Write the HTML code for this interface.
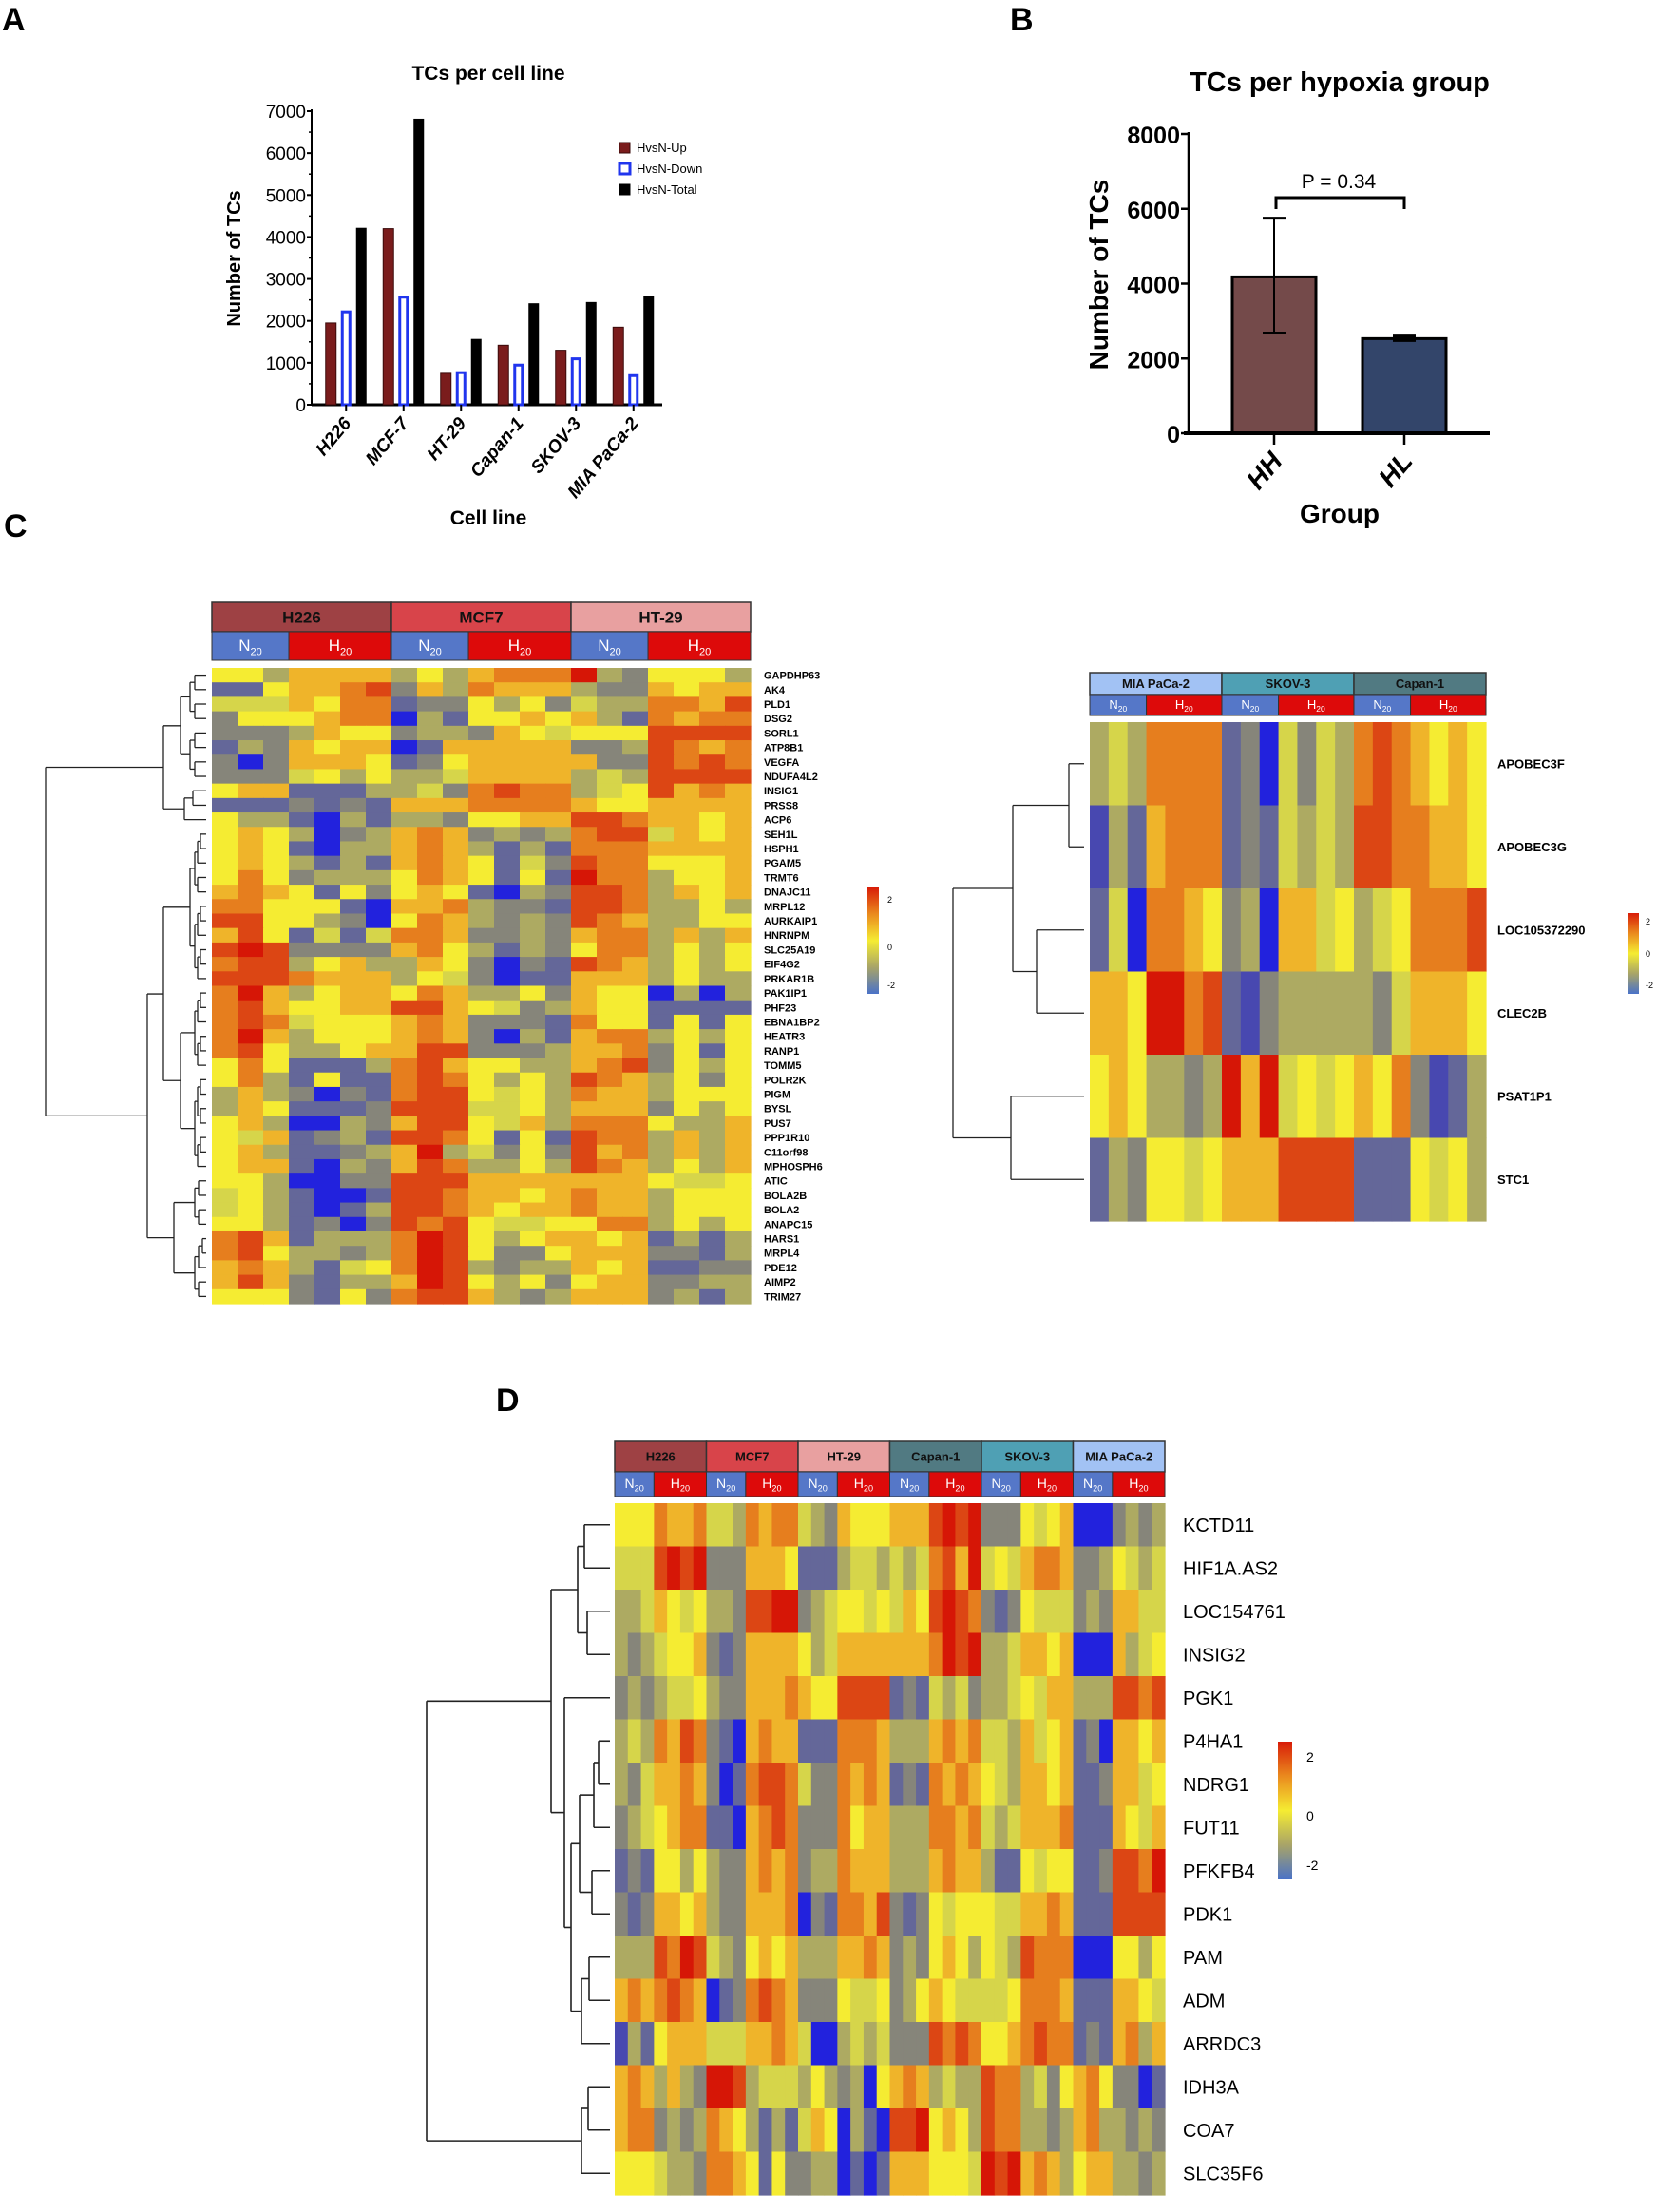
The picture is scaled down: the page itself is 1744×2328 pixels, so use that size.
<!DOCTYPE html>
<html><head><meta charset="utf-8"><style>
html,body{margin:0;padding:0;background:#fff;}
svg text{font-family:"Liberation Sans",Arial,sans-serif;}
</style></head><body>
<svg id="fig" xmlns="http://www.w3.org/2000/svg" width="1744" height="2323" viewBox="0 0 1744 2323">
<defs>
<linearGradient id="cbar" x1="0" y1="0" x2="0" y2="1">
<stop offset="0" stop-color="#d81c08"/><stop offset="0.25" stop-color="#ea8a1e"/><stop offset="0.5" stop-color="#f5ec32"/><stop offset="0.75" stop-color="#a8a468"/><stop offset="1" stop-color="#4a72c8"/>
</linearGradient>
</defs>
<g id="gA"></g>
<g id="gB"></g>
<g id="gC"></g>
<g id="gD"></g>
</svg>
<script>
// ---------- Panel A data ----------
const cellLines = ["H226","MCF-7","HT-29","Capan-1","SKOV-3","MIA PaCa-2"];
const upValues = [1950,4200,750,1420,1300,1850];
const downValues = [2250,2600,800,980,1130,730];
const totalValues = [4220,6820,1570,2420,2450,2600];
const aTicks = [0,1000,2000,3000,4000,5000,6000,7000];
// ---------- Panel B data ----------
const groups = ["HH","HL"];
const groupMeans = [4180,2530];
const groupErrLow = [2680,2480];
const groupErrHigh = [5750,2600];
const bTicks = [0,2000,4000,6000,8000];
// ---------- Heatmap C-left ----------
const cLeftGenes = ["GAPDHP63","AK4","PLD1","DSG2","SORL1","ATP8B1","VEGFA","NDUFA4L2","INSIG1","PRSS8","ACP6","SEH1L","HSPH1","PGAM5","TRMT6","DNAJC11","MRPL12","AURKAIP1","HNRNPM","SLC25A19","EIF4G2","PRKAR1B","PAK1IP1","PHF23","EBNA1BP2","HEATR3","RANP1","TOMM5","POLR2K","PIGM","BYSL","PUS7","PPP1R10","C11orf98","MPHOSPH6","ATIC","BOLA2B","BOLA2","ANAPC15","HARS1","MRPL4","PDE12","AIMP2","TRIM27"];
const cLeftRows = [
"yyoaaaa"+"oyoaOOO"+"Rogyyyo","bbyaaOr"+"gaoOaaa"+"oggayaa","lllayOO"+"bggyoyg"+"looOOar","gyyyaOO"+"Bobyyay"+"aobOaOO",
"gggoayy"+"googayl"+"yyyrrrr","bogayaa"+"Bbaaaaa"+"ggorOaO","gBgaaay"+"bgyaaaa"+"aggrOrO","ggglyoy"+"oolaaaa"+"olorrrr",
"yaabbbo"+"olgOrOO"+"olyraOa","bbbgbgb"+"aaaOOOO"+"ayyaaaa","yoobBob"+"oogyyaa"+"rrOaaya","yayoBgo"+"aOagogo"+"Orrlaya",
"yaybBoo"+"aOaobob"+"OOOaaaa","yayobob"+"aOayblg"+"rOOyyya","yOygooo"+"yOaybyb"+"ROOoyya","aOaybyg"+"yaybBog"+"rrOoaya",
"OOyyybB"+"aaOoggb"+"rrOooyo","rryyogB"+"yOaogog"+"rOaooyy","aryblbl"+"OOaggog"+"aOOoaoa","rRrgggg"+"aOyobog"+"yOOoyoy",
"Orroyao"+"oaygBgb"+"rOaoyoy","rrrOaaa"+"oylgBbb"+"aaaoyoo","ORaoyaa"+"yOaooyg"+"ayyBoBo","Orayyaa"+"rraylgo"+"ayybbbb",
"OrOlyyy"+"aOagggb"+"Oyybyby","ORaoyyy"+"aOagBob"+"aOOoyoy","Oryooya"+"arrgggo"+"aaOgyby","yOybbbo"+"Orayyoo"+"aOrgyoy",
"yOobybb"+"OrOyoyo"+"rOaoygy","oaogBgb"+"Orrylyo"+"Oaaoyyy","oaybbbg"+"rrrllyo"+"aaagyoy","yaoBBog"+"arrylao"+"OOOyooa",
"ylabgob"+"rrOybyb"+"rOOoaoa","yaobbgo"+"aRolgyg"+"raOoaoa","yaabBog"+"arOooyo"+"rOaoyoa","yyoBBgg"+"rrraaaa"+"aaaylly",
"lyobBBb"+"rrOaaya"+"Oaaoyyy","lyobBbo"+"rrOayaa"+"Oaaoyyy","yyobgBg"+"rOrylly"+"yOOoyoy","Orabooo"+"ORryoya"+"ayabobo",
"Oryoogo"+"ORryggy"+"aaaggbo","aOaobly"+"ORrogoo"+"ayabbgg","aragboo"+"aRryoyg"+"yaaggoo","yyygbyg"+"Orraogo"+"aaagobo"];
const cLeftGroups = ["H226","MCF7","HT-29"];
// ---------- Heatmap C-right ----------
const cRightGenes = ["APOBEC3F","APOBEC3G","LOC105372290","CLEC2B","PSAT1P1","STC1"];
const cRightRows = [
"oloOOOO"+"bgBlglo"+"OrOayay","mobaOOO"+"bgblolo"+"rrOOaay","blBOOay"+"goBaaly"+"olyOOOr",
"aayRROr"+"bmgoooo"+"oglaaay","yayoogo"+"RaRlyly"+"ayOgmbo","bogyyly"+"aaarrrr"+"bbbylyo"];
const cRightGroups = ["MIA PaCa-2","SKOV-3","Capan-1"];
// ---------- Heatmap D ----------
const dGenes = ["KCTD11","HIF1A.AS2","LOC154761","INSIG2","PGK1","P4HA1","NDRG1","FUT11","PFKFB4","PDK1","PAM","ADM","ARRDC3","IDH3A","COA7","SLC35F6"];
const dRows = [
"yyyOaaO"+"lloOaOO"+"logayyy"+"aaarRrR"+"gggylya"+"BBBgogo",
"lllrRrR"+"gggaaay"+"bbbollo"+"lolOraR"+"lylaOOa"+"ggoylol",
"oolayly"+"oogrrRR"+"golyyly"+"layrRrO"+"gbgylll"+"gogaall",
"ogolyya"+"gbgaaaa"+"yolaaaa"+"aaaORrR"+"oolaaya"+"BBBaoly",
"gogolly"+"oggaaaO"+"ayyrrrr"+"bgblolg"+"oolylaa"+"ooorrOr",
"oloOarO"+"gbBaOaa"+"bbbOOOa"+"oooaOaO"+"lloalya"+"bgBaaya",
"oglaaOa"+"gBbOrrO"+"lggOaOa"+"bgbOaOa"+"yloaaya"+"bbgaaly",
"golyaOO"+"bbBaOrO"+"gggOyaa"+"oooOOaO"+"lolaaaO"+"bbbayla",
"bgbyyoy"+"oggaOaO"+"gooOaaa"+"oooaOaa"+"obbylyy"+"bbgrrOR",
"gbgaaya"+"oggaaaO"+"BgbOOar"+"gbgylyy"+"yllaaOa"+"bbbrrrr",
"ooorORr"+"logyaya"+"oooaaOa"+"gogyayo"+"ylorOOO"+"BBByyoy",
"aOaOrOa"+"BbgOrOa"+"gggylly"+"goyayll"+"llyOOOa"+"bbbaayl",
"mobyaaa"+"lllaaOa"+"lBBolol"+"gggrOrO"+"yyaOrOO"+"bgbaOoa",
"aOaoaog"+"RRrolll"+"oyogoBy"+"aOaoloo"+"rOOolgy"+"aOyggBb",
"aOOgogo"+"Oayobob"+"layBobB"+"rrRyayo"+"rOOoogo"+"aOoogog",
"yyyloog"+"OOaybyg"+"gooBbBb"+"aaayyyl"+"RrRaOao"+"yaaoogo"];
const dGroups = ["H226","MCF7","HT-29","Capan-1","SKOV-3","MIA PaCa-2"];

const NS="http://www.w3.org/2000/svg";
function mk(tag, attrs, parent, text){
  const e=document.createElementNS(NS,tag);
  for(const k in attrs) e.setAttribute(k,attrs[k]);
  if(text!==undefined) e.textContent=text;
  parent.appendChild(e); return e;
}
const codeVal={B:-2.3,m:-1.8,b:-1.5,g:-1.0,o:-0.5,l:0,y:0.4,a:1.0,O:1.5,r:2.0,R:2.4};
const stops=[[-2.3,"#2222dd"],[-1.8,"#4848b0"],[-1.5,"#646799"],[-1.0,"#86857a"],[-0.5,"#adaa62"],[0,"#d6d54a"],[0.4,"#f5ec32"],[1.0,"#efb42a"],[1.5,"#e67e1e"],[2.0,"#dc4614"],[2.4,"#d61606"]];
function colorOf(v){let best=stops[0];for(const s of stops){if(Math.abs(s[0]-v)<Math.abs(best[0]-v))best=s;}return best[1];}
const grpColor={"H226":"#9e4144","MCF7":"#d8444a","HT-29":"#e8a0a0","Capan-1":"#517a82","SKOV-3":"#4fa0b4","MIA PaCa-2":"#a2c2f4"};
const svg=document.getElementById('fig');

// panel letters
const letters=[["A",2,32],["B",1063,32],["C",4,565],["D",522,1485]];
for(const [t,x,y] of letters){
  const e=mk('text',{x:x,y:y,'font-size':34,'font-weight':'bold'},svg,t);
  
  
}

// ---------- Panel A ----------
(function(){
  const g=document.getElementById('gA');
  const x0=328,x1=697,yTop=117,yBot=426,maxV=7000;
  const y=v=>yBot-(v/maxV)*(yBot-yTop);
  const groupW=(x1-x0-6)/cellLines.length;
  const cx=i=>x0+6+groupW*(i+0.5);
  const t=mk('text',{x:514,y:84,'font-size':21,'font-weight':'bold','text-anchor':'middle'},g,'TCs per cell line');
  
  const yl=mk('text',{x:0,y:0,'font-size':20,'font-weight':'bold','text-anchor':'middle',transform:'translate(253,272) rotate(-90)'},g,'Number of TCs');
  
  mk('line',{x1:x0,y1:yTop-2,x2:x0,y2:yBot,stroke:'#000','stroke-width':2},g);
  const ax=mk('line',{x1:x0,y1:yBot,x2:x1,y2:yBot,stroke:'#000','stroke-width':3},g);
  
  aTicks.forEach(v=>{
    mk('line',{x1:x0-5,y1:y(v),x2:x0,y2:y(v),stroke:'#000','stroke-width':2},g);
    if(v<maxV) mk('line',{x1:x0-3,y1:y(v+500),x2:x0,y2:y(v+500),stroke:'#000','stroke-width':1.5},g);
    const tl=mk('text',{x:x0-6,y:y(v)+7,'font-size':19,'text-anchor':'end'},g,String(v));
    
  });
  const bw=11;
  cellLines.forEach((c,i)=>{
    const b1=mk('rect',{x:cx(i)-bw*1.5-5,y:y(upValues[i]),width:bw,height:yBot-y(upValues[i]),fill:'#7a1c1c',stroke:'#3a0a0a','stroke-width':1},g);
    
    const b2=mk('rect',{x:cx(i)-bw/2+1.5,y:y(downValues[i])+1.5,width:bw-3,height:yBot-y(downValues[i])-1.5,fill:'#fff',stroke:'#2035ee','stroke-width':3},g);
    
    const b3=mk('rect',{x:cx(i)+bw/2+5,y:y(totalValues[i]),width:bw,height:yBot-y(totalValues[i]),fill:'#000'},g);
    
    mk('line',{x1:cx(i),y1:yBot,x2:cx(i),y2:yBot+7,stroke:'#000','stroke-width':2},g);
    const xl=mk('text',{x:0,y:0,'font-size':19,'font-weight':'bold','font-style':'italic','text-anchor':'end',transform:`translate(${cx(i)+6},${yBot+20}) rotate(-50)`},g,c);
    
  });
  const xt=mk('text',{x:514,y:552,'font-size':21,'font-weight':'bold','text-anchor':'middle'},g,'Cell line');
  
  const leg=[['HvsN-Up','#7a1c1c','#3a0a0a'],['HvsN-Down','#fff','#2035ee'],['HvsN-Total','#000','#000']];
  leg.forEach((l,i)=>{
    const ly=150+i*22;
    const r=mk('rect',{x:652,y:ly,width:11,height:11,fill:l[1],stroke:l[2],'stroke-width':i==1?3:1},g);
    
    const lt=mk('text',{x:670,y:ly+10,'font-size':13},g,l[0]);
    
  });
})();

// ---------- Panel B ----------
(function(){
  const g=document.getElementById('gB');
  const x0=1251,x1=1568,yTop=141,yBot=456,maxV=8000;
  const y=v=>yBot-(v/maxV)*(yBot-yTop);
  const centers=[1341,1478],bw=88;
  const t=mk('text',{x:1410,y:96,'font-size':29,'font-weight':'bold','text-anchor':'middle'},g,'TCs per hypoxia group');
  
  const yl=mk('text',{x:0,y:0,'font-size':28,'font-weight':'bold','text-anchor':'middle',transform:'translate(1166,289) rotate(-90)'},g,'Number of TCs');
  
  groups.forEach((n,i)=>{
    const col=i==0?'#744a4a':'#33456a';
    const b=mk('rect',{x:centers[i]-bw/2,y:y(groupMeans[i]),width:bw,height:yBot-y(groupMeans[i]),fill:col,stroke:'#000','stroke-width':3},g);
    
    mk('line',{x1:centers[i],y1:y(groupErrLow[i]),x2:centers[i],y2:y(groupErrHigh[i]),stroke:'#000','stroke-width':2},g);
    mk('line',{x1:centers[i]-12,y1:y(groupErrHigh[i]),x2:centers[i]+12,y2:y(groupErrHigh[i]),stroke:'#000','stroke-width':3},g);
    mk('line',{x1:centers[i]-12,y1:y(groupErrLow[i]),x2:centers[i]+12,y2:y(groupErrLow[i]),stroke:'#000','stroke-width':3},g);
    mk('line',{x1:centers[i],y1:yBot,x2:centers[i],y2:yBot+12,stroke:'#000','stroke-width':2.5},g);
    const xl=mk('text',{x:0,y:0,'font-size':28,'font-weight':'bold','font-style':'italic','text-anchor':'end',transform:`translate(${centers[i]+10},${yBot+30}) rotate(-50)`},g,n);
    
  });
  mk('line',{x1:x0,y1:yTop-2,x2:x0,y2:yBot,stroke:'#000','stroke-width':2.5},g);
  mk('line',{x1:x0-5,y1:yBot,x2:x1,y2:yBot,stroke:'#000','stroke-width':4},g);
  bTicks.forEach(v=>{
    mk('line',{x1:x0-8,y1:y(v),x2:x0,y2:y(v),stroke:'#000','stroke-width':2.5},g);
    const tl=mk('text',{x:x0-9,y:y(v)+10,'font-size':25,'font-weight':'bold','text-anchor':'end'},g,String(v));
    
  });
  mk('path',{d:'M1343 220 L1343 208 L1478 208 L1478 220',fill:'none',stroke:'#000','stroke-width':3},g);
  const p=mk('text',{x:1409,y:198,'font-size':21,'text-anchor':'middle'},g,'P = 0.34');
  
  const xt=mk('text',{x:1410,y:550,'font-size':28,'font-weight':'bold','text-anchor':'middle'},g,'Group');
  
})();

// ---------- Heatmap drawing ----------
function heatmap(g,opt){
  const {x0,x1,hTop,hMid,hSub,y0,y1,groupsArr,rows,genes,labelX,labelSize,headSize,subSize,name}=opt;
  const ncol=rows[0].length, nrow=rows.length;
  const cw=(x1-x0)/ncol, rh=(y1-y0)/nrow;
  const gw=(x1-x0)/groupsArr.length;
  groupsArr.forEach((gn,i)=>{
    const r=mk('rect',{x:x0+gw*i,y:hTop,width:gw,height:hMid-hTop,fill:grpColor[gn],stroke:'#333','stroke-width':1.5},g);
    
    mk('text',{x:x0+gw*(i+0.5),y:(hTop+hMid)/2+headSize*0.36,'font-size':headSize,'font-weight':'bold','text-anchor':'middle',fill:'#111'},g,gn);
    const nw=cw*3;
    const rn=mk('rect',{x:x0+gw*i,y:hMid,width:nw,height:hSub-hMid,fill:'#5577c8',stroke:'#333','stroke-width':1},g);
    
    const rhx=mk('rect',{x:x0+gw*i+nw,y:hMid,width:gw-nw,height:hSub-hMid,fill:'#dd0a0a',stroke:'#333','stroke-width':1},g);
    
    const ty=(hMid+hSub)/2+subSize*0.3;
    const tn=mk('text',{x:x0+gw*i+nw/2,y:ty,'font-size':subSize,'text-anchor':'middle',fill:'#fff'},g);
    tn.innerHTML='N<tspan font-size="'+(subSize*0.65)+'" dy="'+(subSize*0.25)+'">20</tspan>';
    const th=mk('text',{x:x0+gw*i+nw+(gw-nw)/2,y:ty,'font-size':subSize,'text-anchor':'middle',fill:'#fff'},g);
    th.innerHTML='H<tspan font-size="'+(subSize*0.65)+'" dy="'+(subSize*0.25)+'">20</tspan>';
  });
  rows.forEach((row,r)=>{
    for(let c=0;c<ncol;c++){
      const cell=mk('rect',{x:(x0+c*cw).toFixed(2),y:(y0+r*rh).toFixed(2),width:(cw+0.6).toFixed(2),height:(rh+0.6).toFixed(2),fill:colorOf(codeVal[row[c]])},g);
      
      
    }
    const lt=mk('text',{x:labelX,y:y0+(r+0.5)*rh+labelSize*0.36,'font-size':labelSize,'font-weight':opt.bold?'bold':'normal'},g,genes[r]);
    
  });
  return rh;
}
function drawTree(g,node,y0,rh,leafX,sw){
  if(typeof node==='number') return {y:y0+(node+0.5)*rh,x:leafX};
  const ch=node.c.map(n=>drawTree(g,n,y0,rh,leafX,sw));
  const ys=ch.map(c=>c.y);
  ch.forEach(c=>mk('line',{x1:node.x,y1:c.y,x2:c.x,y2:c.y,stroke:'#222','stroke-width':sw},g));
  mk('line',{x1:node.x,y1:Math.min(...ys),x2:node.x,y2:Math.max(...ys),stroke:'#222','stroke-width':sw},g);
  return {y:(Math.min(...ys)+Math.max(...ys))/2,x:node.x};
}
function auto(lo,hi,x,step){
  if(lo===hi) return lo;
  const mid=Math.floor((lo+hi)/2);
  return {x:x,c:[auto(lo,mid,x+step,step),auto(mid+1,hi,x+step,step)]};
}
function colorbar(g,x,y,w,h,lx,ly,fs,name){
  const r=mk('rect',{x:x,y:y,width:w,height:h,fill:'url(#cbar)'},g);
  
  ['2','0','-2'].forEach((t,i)=>mk('text',{x:lx,y:ly[i],'font-size':fs},g,t));
}

// C-left
(function(){
  const g=document.getElementById('gC');
  const gl=mk('g',{},g);
  const rh=heatmap(gl,{x0:223,x1:790,hTop:634,hMid:665,hSub:695,y0:703,y1:1372,groupsArr:cLeftGroups,rows:cLeftRows,genes:cLeftGenes,labelX:804,labelSize:11,headSize:17,subSize:17,bold:true});
  const tree={x:48,c:[
    {x:172,c:[{x:190,c:[auto(0,3,200,5),auto(4,7,200,5)]},{x:194,c:[{x:203,c:[8,9]},10]}]},
    {x:155,c:[
      {x:172,c:[{x:200,c:[auto(11,15,205,3),auto(16,21,205,3)]},{x:190,c:[auto(22,27,205,3),auto(28,34,205,3)]}]},
      {x:183,c:[auto(35,38,205,4),auto(39,43,205,4)]}]}]};
  drawTree(gl,tree,703,rh,217,1.3);
  colorbar(gl,913,934,12,112,934,[950,1000,1040],9,'colorbar-c-left');
  // C-right
  const gr=mk('g',{},g);
  const rh2=heatmap(gr,{x0:1147,x1:1564,hTop:708,hMid:731,hSub:753,y0:760,y1:1285,groupsArr:cRightGroups,rows:cRightRows,genes:cRightGenes,labelX:1576,labelSize:13,headSize:13,subSize:13,bold:true});
  const tree2={x:1003,c:[{x:1066,c:[{x:1125,c:[0,1]},{x:1091,c:[2,3]}]},{x:1064,c:[4,5]}]};
  drawTree(gr,tree2,760,rh2,1141,1.3);
  colorbar(gr,1714,961,11,85,1732,[973,1007,1040],9,'colorbar-c-right');
})();

// D
(function(){
  const g=document.getElementById('gD');
  const rh=heatmap(g,{x0:647,x1:1226,hTop:1517,hMid:1549,hSub:1575,y0:1582,y1:2310,groupsArr:dGroups,rows:dRows,genes:dGenes,labelX:1245,labelSize:20,headSize:13,subSize:14,bold:false});
  const tree={x:449,c:[
    {x:580,c:[
      {x:608,c:[{x:615,c:[0,1]},{x:618,c:[2,3]}]},
      {x:594,c:[4,{x:601,c:[
        {x:610,c:[{x:625,c:[{x:630,c:[5,6]},7]},{x:623,c:[8,9]}]},
        {x:612,c:[{x:620,c:[10,11]},12]}]}]}]},
    {x:612,c:[{x:619,c:[13,14]},15]}]};
  drawTree(g,tree,1582,rh,642,1.6);
  colorbar(g,1345,1833,15,145,1375,[1854,1916,1968],14,'colorbar-d');
})();
</script>
</body></html>
